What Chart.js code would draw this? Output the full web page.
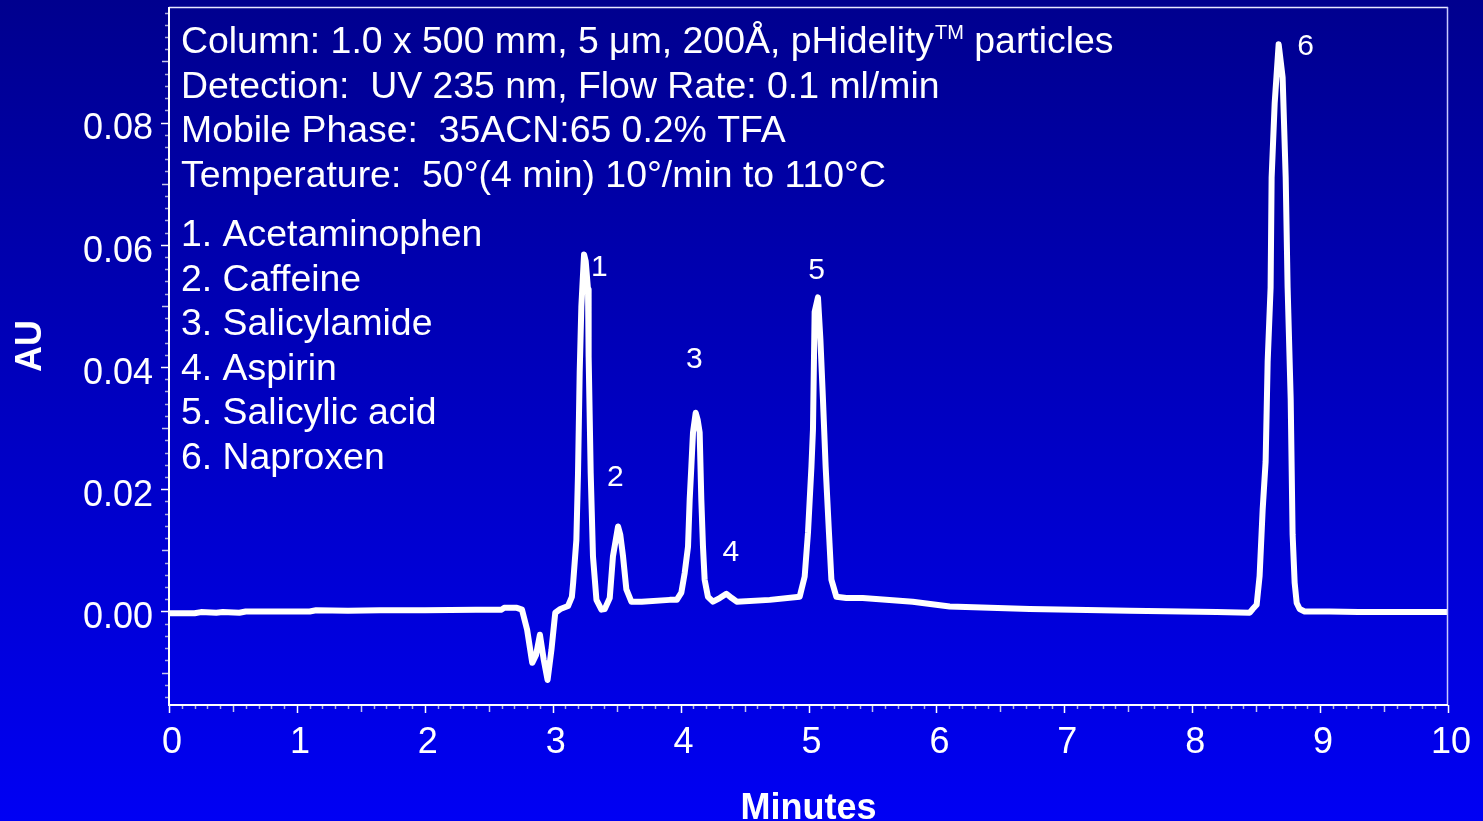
<!DOCTYPE html>
<html><head><meta charset="utf-8">
<script src="https://cdn.jsdelivr.net/npm/chart.js@4.4.1/dist/chart.umd.min.js"></script>
<style>html,body{margin:0;padding:0;background:#0000c0;overflow:hidden}#wrap{width:1483px;height:821px}</style>
</head><body><div id="wrap"><canvas id="c" width="1483" height="821"></canvas></div>
<script>
// ---- data ----
const timeMin = [0.000,0.20,0.25,0.37,0.42,0.55,0.60,1.10,1.15,1.40,1.65,2.00,2.40,2.60,2.62,2.72,2.76,2.80,2.84,2.87,2.90,2.93,2.96,2.99,3.02,3.06,3.12,3.15,3.16,3.185,3.198,3.211,3.224,3.245,3.258,3.276,3.281,3.297,3.315,3.342,3.381,3.407,3.446,3.471,3.511,3.528,3.550,3.576,3.615,3.696,3.915,3.970,4.006,4.032,4.058,4.071,4.084,4.097,4.118,4.133,4.149,4.162,4.175,4.188,4.214,4.253,4.306,4.358,4.400,4.439,4.697,4.931,4.970,4.996,5.023,5.035,5.048,5.074,5.093,5.113,5.134,5.160,5.179,5.218,5.296,5.424,5.815,6.104,6.729,7.511,8.191,8.450,8.473,8.504,8.527,8.551,8.574,8.590,8.613,8.621,8.645,8.676,8.707,8.731,8.746,8.770,8.785,8.801,8.817,8.840,8.879,9.074,9.30,10.0];
const absorbanceAU = [-0.0003,-0.0003,-0.0001,-0.0002,-0.0001,-0.0002,0.0000,0.0000,0.0002,0.0001,0.0002,0.0002,0.0003,0.0003,0.0006,0.0006,0.0003,-0.0030,-0.0084,-0.0071,-0.0038,-0.0079,-0.0112,-0.0063,-0.0002,0.0004,0.0009,0.0024,0.0047,0.0117,0.0227,0.0391,0.0499,0.0584,0.0573,0.0527,0.0417,0.0227,0.0090,0.0019,0.0003,0.0004,0.0022,0.0090,0.0139,0.0126,0.0090,0.0036,0.0016,0.0016,0.0019,0.0019,0.0031,0.0063,0.0106,0.0183,0.0237,0.0293,0.0325,0.0314,0.0293,0.0183,0.0106,0.0052,0.0024,0.0016,0.0022,0.0029,0.0022,0.0016,0.0019,0.0024,0.0057,0.0129,0.0237,0.0298,0.0490,0.0514,0.0445,0.0347,0.0237,0.0129,0.0052,0.0024,0.0022,0.0022,0.0016,0.0008,0.0004,0.0001,-0.0001,-0.0002,0.0004,0.0011,0.0058,0.0167,0.0245,0.0409,0.0530,0.0710,0.0832,0.0928,0.0874,0.0710,0.0530,0.0348,0.0126,0.0047,0.0014,0.0004,0.0000,0.0000,-0.0001,-0.0001];
const xTickLabels = ['0','1','2','3','4','5','6','7','8','9','10'];
const yTickLabels = ['0.00','0.02','0.04','0.06','0.08'];
const yTickValues = [0, 0.02, 0.04, 0.06, 0.08];
const xAxisTitle = 'Minutes';
const yAxisTitle = 'AU';
const infoLine1 = ['Column: 1.0 x 500 mm, 5 μm, 200Å, pHidelity', 'TM', ' particles'];
const infoLines = ['Detection:  UV 235 nm, Flow Rate: 0.1 ml/min', 'Mobile Phase:  35ACN:65 0.2% TFA', 'Temperature:  50°(4 min) 10°/min to 110°C'];
const compoundNames = ['1. Acetaminophen','2. Caffeine','3. Salicylamide','4. Aspirin','5. Salicylic acid','6. Naproxen'];
const peakLabelText = ['1','2','3','4','5','6'];
const peakLabelTime = [3.364, 3.489, 4.108, 4.392, 5.064, 8.887];
const peakLabelAU = [0.0564, 0.0221, 0.0414, 0.0098, 0.0559, 0.0925];

const FONT = '"Liberation Sans", Arial, sans-serif';
const points = timeMin.map((t, i) => ({x: t, y: absorbanceAU[i]}));

const bgPlugin = {
  id: 'bg',
  beforeDraw(chart) {
    const ctx = chart.ctx;
    const g = ctx.createLinearGradient(0, 0, 0, chart.height);
    g.addColorStop(0, 'rgb(0,0,142)');
    g.addColorStop(1, 'rgb(0,0,244)');
    ctx.save(); ctx.fillStyle = g; ctx.fillRect(0, 0, chart.width, chart.height); ctx.restore();
  }
};

const framePlugin = {
  id: 'frame',
  afterDraw(chart) {
    const ctx = chart.ctx, a = chart.chartArea;
    const xs = chart.scales.x, ys = chart.scales.y;
    ctx.save();
    // ticks x
    for (let i = 0; i <= 100; i++) {
      const v = i / 10;
      const px = Math.round(xs.getPixelForValue(v)) + 0.5;
      let len = 4, col = 'rgba(190,190,225,0.9)';
      if (i % 10 === 0) { len = 8; col = '#ffffff'; }
      else if (i % 5 === 0) { len = 7; col = 'rgba(210,210,235,0.95)'; }
      ctx.strokeStyle = col; ctx.lineWidth = 1.5;
      ctx.beginPath(); ctx.moveTo(px, a.bottom); ctx.lineTo(px, a.bottom + len); ctx.stroke();
    }
    // ticks y
    for (let i = -7; i <= 49; i++) {
      const v = i * 0.002;
      const py = Math.round(ys.getPixelForValue(v)) + 0.5;
      let len = 4, col = 'rgba(190,190,225,0.9)';
      if (i % 10 === 0) { len = 8; col = '#ffffff'; }
      else if (i % 5 === 0) { len = 7; col = 'rgba(210,210,235,0.95)'; }
      ctx.strokeStyle = col; ctx.lineWidth = 1.5;
      ctx.beginPath(); ctx.moveTo(a.left - len, py); ctx.lineTo(a.left, py); ctx.stroke();
    }
    // frame
    ctx.lineWidth = 1.5;
    ctx.strokeStyle = '#e8e8ff';
    ctx.beginPath(); ctx.moveTo(a.left, a.top + 0.5); ctx.lineTo(a.right, a.top + 0.5); ctx.stroke();
    ctx.strokeStyle = '#c8c8ff';
    ctx.beginPath(); ctx.moveTo(a.right - 0.5, a.top); ctx.lineTo(a.right - 0.5, a.bottom); ctx.stroke();
    ctx.strokeStyle = '#ffffff'; ctx.lineWidth = 2;
    ctx.beginPath(); ctx.moveTo(a.left, a.top); ctx.lineTo(a.left, a.bottom); ctx.lineTo(a.right, a.bottom); ctx.stroke();

    // texts
    ctx.fillStyle = '#ffffff';
    ctx.textBaseline = 'alphabetic';
    ctx.textAlign = 'left';
    const tx = 181;
    const big = '37.4px ' + FONT;
    ctx.font = big;
    ctx.fillText(infoLine1[0], tx, 53);
    let w = ctx.measureText(infoLine1[0]).width;
    ctx.font = '20px ' + FONT;
    ctx.fillText(infoLine1[1], tx + w + 1, 39);
    const w2 = ctx.measureText(infoLine1[1]).width;
    ctx.font = big;
    ctx.fillText(infoLine1[2], tx + w + 1 + w2, 53);
    infoLines.forEach((s, i) => ctx.fillText(s, tx, 97.5 + i * 44.7));
    compoundNames.forEach((s, i) => ctx.fillText(s, tx, 246 + i * 44.6));

    // peak labels
    ctx.font = '30px ' + FONT;
    ctx.textAlign = 'center'; ctx.textBaseline = 'middle';
    peakLabelText.forEach((s, i) => {
      ctx.fillText(s, xs.getPixelForValue(peakLabelTime[i]), ys.getPixelForValue(peakLabelAU[i]) + 1);
    });

    // y title
    ctx.save();
    ctx.font = 'bold 36px ' + FONT;
    ctx.translate(31, 346); ctx.rotate(-Math.PI / 2);
    ctx.textAlign = 'center'; ctx.textBaseline = 'middle';
    ctx.fillText(yAxisTitle, 0, 0);
    ctx.restore();
    ctx.restore();
  }
};

new Chart(document.getElementById('c'), {
  type: 'scatter',
  data: { datasets: [{ data: points, showLine: true, borderColor: '#ffffff', borderWidth: 6,
    pointRadius: 0, tension: 0, borderJoinStyle: 'round', borderCapStyle: 'round', fill: false }] },
  options: {
    responsive: false, animation: false, devicePixelRatio: 1,
    layout: { padding: { top: 7, right: 35, left: 0, bottom: 0 } },
    plugins: { legend: { display: false }, tooltip: { enabled: false } },
    scales: {
      x: {
        type: 'linear', min: 0, max: 10,
        afterFit(s) { s.height = 116; s.paddingLeft = 0; s.paddingRight = 0; },
        grid: { display: false, drawTicks: false }, border: { display: false },
        ticks: { stepSize: 1, color: '#ffffff', padding: 16, labelOffset: 3, maxRotation: 0, autoSkip: false,
          font: { family: FONT, size: 36 },
          callback: (v) => { const i = xTickLabels.indexOf(String(Math.round(v))); return Math.abs(v - Math.round(v)) < 1e-6 && i >= 0 ? xTickLabels[i] : ''; } },
        title: { display: true, text: xAxisTitle, color: '#ffffff', font: { family: FONT, size: 36, weight: 'bold' }, padding: { top: 22, bottom: -10 } }
      },
      y: {
        type: 'linear', min: -0.0153, max: 0.0989,
        afterFit(s) { s.width = 169; s.paddingTop = 0; s.paddingBottom = 0; },
        afterBuildTicks(s) { s.ticks = yTickValues.map(v => ({ value: v })); },
        grid: { display: false, drawTicks: false }, border: { display: false },
        ticks: { color: '#ffffff', padding: 16, labelOffset: 7, font: { family: FONT, size: 36 },
          callback: (v) => { const i = yTickValues.findIndex(t => Math.abs(t - v) < 1e-9); return i >= 0 ? yTickLabels[i] : ''; } }
      }
    }
  },
  plugins: [bgPlugin, framePlugin]
});
</script></body></html>
